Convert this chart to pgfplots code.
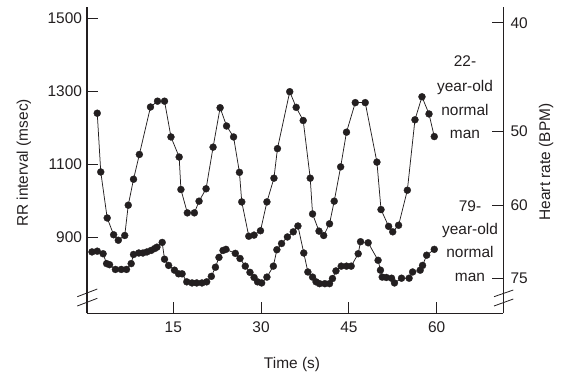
\documentclass[border=0pt]{standalone}
\usepackage{fontspec}
\setmainfont{Liberation Sans}
\usepackage{pgfplots}
\usepackage{pgfplotstable}
\pgfplotsset{compat=1.18}
\definecolor{ink}{RGB}{35,31,32}
\pgfplotstableread{
t v
2.0 1240
2.6 1079
3.7 953
4.8 907
5.6 892
6.7 905
7.3 988
8.2 1059
9.2 1127
11.1 1257
12.3 1273
13.5 1273
14.6 1175
16.0 1120
16.3 1031
17.4 967
18.6 967
19.4 999
20.6 1033
21.8 1147
23.0 1255
24.1 1205
25.3 1175
26.3 1078
26.7 997
27.9 903
28.8 906
29.9 918
31.0 997
32.2 1062
32.8 1143
34.9 1299
36.0 1256
37.2 1220
38.4 1062
38.8 964
39.9 917
40.7 905
41.7 937
42.5 999
43.6 1093
44.6 1188
46.1 1269
47.8 1269
49.8 1106
50.5 976
51.8 930
52.5 915
53.5 933
55.0 1029
56.3 1222
57.5 1285
58.7 1238
59.6 1176
}\young
\pgfplotstableread{
t v
1.1 860
2.0 862
3.0 855
3.6 828
4.1 825
5.1 812
6.1 812
7.0 812
7.8 828
8.2 853
9.1 857
9.8 857
10.5 860
11.2 864
11.8 869
12.2 873
13.1 886
13.5 840
14.2 823
15.2 810
15.9 800
16.5 800
17.3 778
18.2 775
19.0 775
19.9 775
20.7 778
21.5 793
22.2 818
22.8 845
23.5 864
24.0 867
25.6 856
26.4 842
27.3 821
28.1 804
28.8 790
29.4 778
30.1 775
31.0 791
32.1 821
32.7 866
33.5 883
34.5 901
35.5 915
36.3 931
37.3 857
38.0 805
38.8 791
39.4 778
40.0 773
40.9 773
41.7 773
42.2 787
42.8 808
43.7 821
44.6 821
45.4 821
46.6 855
47.0 888
48.3 885
50.0 837
50.4 810
50.7 791
51.4 790
52.3 788
52.8 775
54.0 788
55.3 788
55.9 805
57.2 810
57.6 823
58.3 851
59.6 867
}\old
\begin{document}
\fontsize{15.5}{18}\selectfont
\begin{tikzpicture}[x=1bp,y=1bp]
\path[use as bounding box] (-87.3,-63.7) rectangle (475.7,313.3);
\pgfplotsset{myaxis/.style={scale only axis, width=416bp, height=306.3bp,
  xmin=0.3, xmax=71.4, ymin=691.8, ymax=1531,
  tick align=inside, major tick length=11bp,
  axis line style={line width=1.6bp, ink},
  tick style={line width=0.8bp, ink},
  ticklabel style={font=\fontsize{15.5}{18}\selectfont, text=ink}}}
\begin{axis}[myaxis, at={(0,0)}, anchor=south west,
  axis x line*=bottom, axis y line*=left,
  xtick={15,30,45,60}, xticklabels={15,30,45,60},
  ytick={900,1100,1300,1500}, yticklabels={900,1100,1300,1500},
  xticklabel style={yshift=-3bp}, clip=false]
\addplot[ink, line width=0.75bp, mark=*, mark size=3.5bp, mark options={fill=ink, draw=ink, line width=0.3bp}] table[x=t,y=v] {\young};
\addplot[ink, line width=0.75bp, mark=*, mark size=3.5bp, mark options={fill=ink, draw=ink, line width=0.3bp}] table[x=t,y=v] {\old};
\end{axis}
\begin{axis}[myaxis, at={(0,0)}, anchor=south west,
  axis x line=none, axis y line*=right,
  ytick={1488,1191,987,787}, yticklabels={40,50,60,75},
  yticklabel style={xshift=2bp}]
\addplot[draw=none] coordinates {(1,800)};
\end{axis}
\draw[ink, line width=0.8bp] (-10,16.6) -- (10,24.3);
\draw[ink, line width=0.8bp] (-10,7.3) -- (10,15);
\draw[ink, line width=0.8bp] (406.7,16.6) -- (426,23.3);
\draw[ink, line width=0.8bp] (406.7,7.3) -- (426,14.3);
\begin{scope}[every node/.style={text=ink, inner sep=0pt, anchor=base}]
\node at (377.7,246.6) {22-};
\node at (377.7,221.6) {year-old};
\node at (377.7,198.3) {normal};
\node at (377.7,175.3) {man};
\node at (382.7,101.6) {79-};
\node at (382.7,79.3) {year-old};
\node at (382.7,56) {normal};
\node at (382.7,31.6) {man};
\end{scope}
\node[rotate=90, text=ink] at (-63.3,150.3) {RR interval (msec)};
\node[rotate=90, text=ink] at (458.7,151.3) {Heart rate (BPM)};
\node[text=ink] at (204.7,-51) {Time (s)};
\end{tikzpicture}
\end{document}
